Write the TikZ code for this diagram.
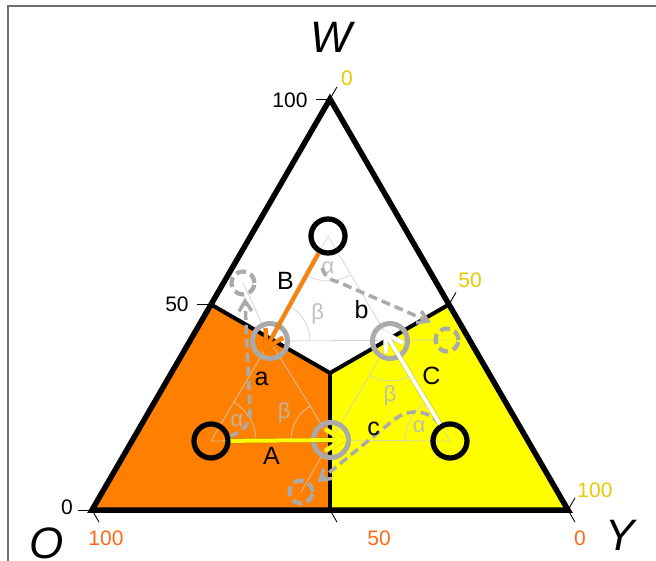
\documentclass[tikz,border=0pt]{standalone}
\usepackage{fontspec}
\setmainfont{Liberation Sans}
\usetikzlibrary{calc}
\definecolor{orfill}{RGB}{255,128,0}
\definecolor{yefill}{RGB}{255,255,0}
\definecolor{goldlab}{RGB}{232,200,0}
\definecolor{orlab}{RGB}{255,105,20}
\definecolor{ringgray}{RGB}{170,170,170}
\definecolor{thingray}{RGB}{205,205,205}
\definecolor{greekgray}{RGB}{185,185,185}
\definecolor{framegray}{RGB}{110,110,110}
\definecolor{shadecol}{RGB}{120,110,60}
\tikzset{
  blackring/.style={circle, draw=black, line width=5.2pt, minimum size=34pt, inner sep=0pt},
  grayring/.style={circle, draw=ringgray, line width=5pt, minimum size=35pt, inner sep=0pt},
  dashring/.style={circle, draw=ringgray, line width=4.2pt, minimum size=23pt, inner sep=0pt, dash pattern=on 10pt off 5pt},
  thinline/.style={draw=thingray, line width=0.8pt, draw opacity=0.8},
  greeklab/.style={text=greekgray, text opacity=0.9, font=\fontsize{22}{22}\selectfont, inner sep=0pt},
  biglab/.style={font=\fontsize{44}{44}\selectfont\itshape, inner sep=0pt},
  numlab/.style={font=\fontsize{21}{21}\selectfont, inner sep=0pt},
  letlab/.style={font=\fontsize{25}{25}\selectfont, inner sep=0pt},
  outline/.style={line width=5.5pt, line join=miter},
  innerline/.style={line width=4pt, line join=miter},
  tickline/.style={line width=0.9pt},
  dashpath/.style={draw=ringgray, line width=3.5pt, dash pattern=on 9pt off 5pt},
  dashhead/.style={draw=ringgray, line width=3.5pt, line join=miter},
  solidline/.style={line width=4pt},
  solidhead/.style={line width=4.5pt, line join=miter, line cap=butt},
  dropshade/.style={draw=shadecol, draw opacity=0.45, line width=5pt, line join=miter, xshift=1.5pt, yshift=-2.5pt}
}
\begin{document}
\begin{tikzpicture}[x=1pt,y=1pt]
\useasboundingbox (0,0) rectangle (656,560);
% frame
\draw[framegray, line width=2.2pt] (8,-5) -- (8,554) -- (670,554);
% main points
\coordinate (O) at (92,50);
\coordinate (Y) at (568,50);
\coordinate (W) at (330,461);
\coordinate (ML) at (211,255.5);
\coordinate (MR) at (449,255.5);
\coordinate (MB) at (330,50);
\coordinate (C) at (330,187);
% regions
\fill[orfill] (O) -- (MB) -- (C) -- (ML) -- cycle;
\fill[yefill] (MB) -- (Y) -- (MR) -- (C) -- cycle;
% points
\coordinate (PWc) at (328,324);
\coordinate (POc) at (211,119);
\coordinate (PYc) at (450,119);
\coordinate (GLc) at (270,219);
\coordinate (GRc) at (390,219);
\coordinate (GBc) at (331,120);
\coordinate (D1c) at (243,277);
\coordinate (D2c) at (447,220);
\coordinate (D3c) at (301,68);
% thin construction lines
\draw[thinline] (PWc) -- (GLc);
\draw[thinline] (PWc) -- (GRc);
\draw[thinline] (GLc) -- (D2c);
\draw[thinline] (GLc) -- (D1c);
\draw[thinline] (POc) -- (GLc);
\draw[thinline] (GLc) -- (GBc);
\draw[thinline] (POc) -- (GBc);
\draw[thinline] (GBc) -- (GRc);
\draw[thinline] (GRc) -- (PYc);
\draw[thinline] (GBc) -- (PYc);
\draw[thinline] (GBc) -- (D3c);
% angle arcs
\draw[thinline] ($(PWc)+(241:45)$) arc[start angle=241, end angle=300, radius=45];
\draw[thinline] ($(GLc)+(0:40)$) arc[start angle=0, end angle=61, radius=40];
\draw[thinline] ($(POc)+(0:45)$) arc[start angle=0, end angle=60, radius=45];
\draw[thinline] ($(GBc)+(121:40)$) arc[start angle=121, end angle=180, radius=40];
\draw[thinline] ($(PYc)+(121:45)$) arc[start angle=121, end angle=180, radius=45];
\draw[thinline] ($(GRc)+(239:40)$) arc[start angle=239, end angle=301, radius=40];
\node[greeklab] (al1) at ($(PWc)+(270:32)$) {α};
\node[greeklab] (be1) at ($(GLc)+(30:55)$) {β};
\node[greeklab] (al2) at ($(POc)+(38:33)$) {α};
\node[greeklab] (be2) at ($(GBc)+(150:54)$) {β};
\node[greeklab] (al3) at ($(PYc)+(155:34)$) {α};
\node[greeklab] (be3) at ($(GRc)+(270:55)$) {β};
% black lines
\draw[innerline] (ML) -- (C) -- (MR);
\draw[innerline] (C) -- (MB);
\draw[outline] (O) -- (Y) -- (W) -- cycle;
% ticks
\draw[tickline] (O) -- ++(-14,0);
\draw[tickline] (ML) -- ++(-14,0);
\draw[tickline] (W) -- ++(-14,0);
\draw[tickline] (W) -- ++(60:14);
\draw[tickline] (MR) -- ++(60:14);
\draw[tickline] (Y) -- ++(60:14);
\draw[tickline] (O) -- ++(-60:14);
\draw[tickline] (MB) -- ++(-60:14);
\draw[tickline] (Y) -- ++(-60:14);
% axis letters
\node[biglab] (labW) at (331,523) {W};
\node[biglab] (labO) at (47,17) {O};
\node[biglab] (labY) at (620,25) {Y};
% numbers
\node[numlab] (n1) at (290,460) {100};
\node[numlab, text=goldlab] (n2) at (347,482) {0};
\node[numlab] (n3) at (177,256) {50};
\node[numlab, text=goldlab] (n4) at (470,280) {50};
\node[numlab] (n5) at (67,52.5) {0};
\node[numlab, text=goldlab] (n6) at (595,70) {100};
\node[numlab, text=orlab] (n7) at (106,22) {100};
\node[numlab, text=orlab] (n8) at (379,22) {50};
\node[numlab, text=orlab] (n9) at (580,22) {0};
% rings
\node[grayring] (GL) at (GLc) {};
\node[grayring] (GR) at (GRc) {};
\node[grayring] (GB) at (GBc) {};
\node[dashring] (D1) at (D1c) {};
\node[dashring] (D2) at (D2c) {};
\node[dashring] (D3) at (D3c) {};
\draw[dropshade, line width=5.2pt] (PWc) circle[radius=17];
\draw[dropshade, line width=5.2pt] (POc) circle[radius=17];
\draw[dropshade, line width=5.2pt] (PYc) circle[radius=17];
\node[blackring] (PW) at (PWc) {};
\node[blackring] (PO) at (POc) {};
\node[blackring] (PY) at (PYc) {};
% dashed arrows
\coordinate (a0) at (230,124);
\coordinate (am) at (250,148);
\coordinate (a1) at (245,259);
\draw[dashpath] (a0) .. controls (242,128) and (250,135) .. (am) -- ($(a1)!2pt!(am)$);
\draw[dashhead] ($(a1)!12pt!32:(am)$) -- (a1) -- ($(a1)!12pt!-32:(am)$);
\coordinate (b0) at (322,292);
\coordinate (bm) at (338,278);
\coordinate (b1) at (428,239);
\draw[dashpath] (b0) .. controls (325,283) and (330,280) .. (bm) -- ($(b1)!2pt!(bm)$);
\draw[dashhead] ($(b1)!12pt!32:(bm)$) -- (b1) -- ($(b1)!12pt!-32:(bm)$);
\coordinate (c0) at (440,136);
\coordinate (cm) at (395,141);
\coordinate (c1) at (320,80);
\draw[dashpath] (c0) .. controls (428,150) and (410,152) .. (cm) -- ($(c1)!2pt!(cm)$);
\draw[dashhead] ($(c1)!12pt!32:(cm)$) -- (c1) -- ($(c1)!12pt!-32:(cm)$);
% solid arrows (tips and barbs)
\coordinate (Bt) at (266.1,212.0);
\coordinate (Bh1) at (265.7,232.0);
\coordinate (Bh2) at (283.1,222.3);
\coordinate (At) at (343,120);
\coordinate (Ah1) at (325,131);
\coordinate (Ah2) at (325,109);
\coordinate (Ct) at (385.4,226.7);
\coordinate (Ch1) at (402.9,217.0);
\coordinate (Ch2) at (385.8,206.7);
\draw[dropshade] (PW) -- (Bt);
\draw[dropshade] (Bh1) -- (Bt) -- (Bh2);
\draw[dropshade] (PO) -- (At);
\draw[dropshade] (Ah1) -- (At) -- (Ah2);
\draw[dropshade] (PY) -- (Ct);
\draw[dropshade] (Ch1) -- (Ct) -- (Ch2);
\draw[solidline, draw=orfill, line width=3.5pt] (PW) -- (Bt);
\draw[solidhead, draw=orfill, line width=4pt] (Bh1) -- (Bt) -- (Bh2);
\draw[solidline, draw=yefill] (PO) -- (At);
\draw[solidhead, draw=yefill] (Ah1) -- (At) -- (Ah2);
\draw[solidline, draw=white] (PY) -- (Ct);
\draw[solidhead, draw=white] (Ch1) -- (Ct) -- (Ch2);
% letter labels
\node[letlab] (lB) at (285.5,279) {B};
\node[letlab] (lb) at (361.5,250) {b};
\node[letlab] (la) at (261.5,181.5) {a};
\node[letlab] (lA) at (271.5,104) {A};
\node[letlab] (lc) at (373.5,131.5) {c};
\node[letlab] (lC) at (431.5,184.5) {C};
\end{tikzpicture}
\end{document}
